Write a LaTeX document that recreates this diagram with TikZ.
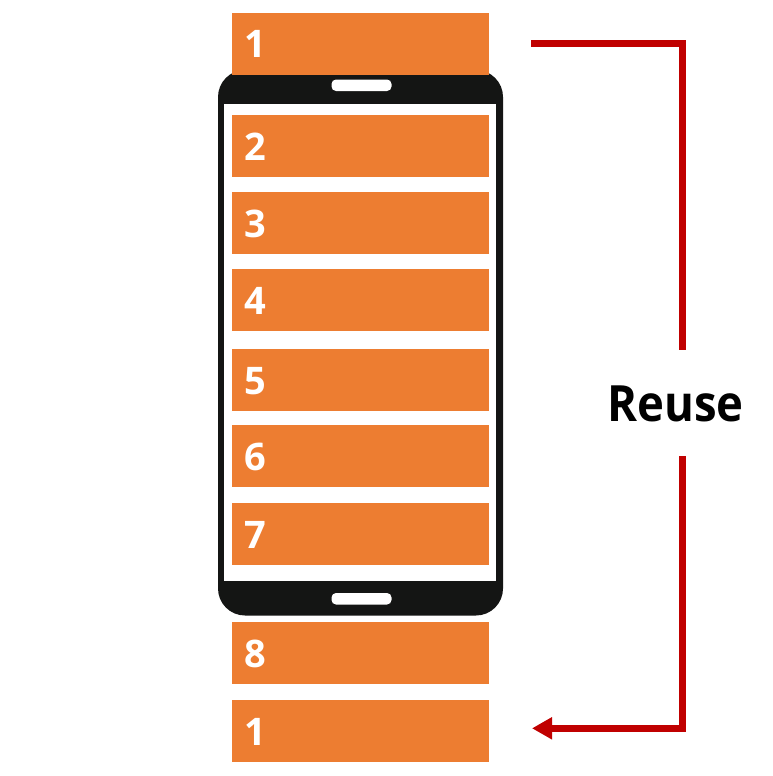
\documentclass[tikz,border=0pt]{standalone}
\usepackage{fontspec}
\setmainfont{Open Sans}
\definecolor{boxorange}{HTML}{ED7D31}
\definecolor{phoneblack}{HTML}{141514}
\definecolor{arrowred}{HTML}{C00000}
\usetikzlibrary{arrows.meta}
\tikzset{
  x=1pt,y=-1pt,
  slot/.style={fill=boxorange,draw=none,minimum width=257pt,minimum height=62pt,inner sep=0pt,outer sep=0pt,anchor=north west},
  digit/.style={text=white,font=\fontsize{38pt}{38pt}\selectfont\bfseries,inner sep=0pt,anchor=base west},
  phonebody/.style={fill=phoneblack,draw=none,rounded corners=27pt},
  speaker/.style={fill=white,draw=none,rounded corners=4.5pt},
  reuseline/.style={draw=arrowred,line width=7pt},
}
\begin{document}
\begin{tikzpicture}
\useasboundingbox (0,0) rectangle (772,776);
\fill[white] (0,0) rectangle (772,776);
% phone
\path[phonebody] (218,70) rectangle (503,615.5);
\fill[white] (224,103.5) rectangle (496,580.5);
\path[speaker] (331.5,79.5) rectangle (391.5,91);
\path[speaker] (331.5,593) rectangle (391.5,604.5);
% slots
\foreach \nm/\lbl/\ytop in {a/1/13,b/2/115,c/3/192,d/4/269,e/5/349,f/6/425,g/7/503,h/8/622,i/1/700}{
  \node[slot] (slot\nm) at (232,\ytop) {};
  \node[digit] (digit\nm) at (244,\ytop+45) {\lbl};
}
% reuse
\node[font=\fontsize{50pt}{50pt}\selectfont\bfseries,text=black,inner sep=0pt] (reuse) at (675.5,404) {\scalebox{0.91}[1]{Reuse}};
\coordinate (startpt) at ([xshift=42pt]slota.east);
\coordinate (gaptop) at (682.5,350);
\coordinate (gapbot) at (682.5,456);
\coordinate (endpt) at ([xshift=43pt,yshift=2.7pt]sloti.east);
\draw[reuseline] (startpt) -| (gaptop);
\draw[reuseline,-{Triangle[length=20pt,width=21pt]}] (gapbot) |- (endpt);
\end{tikzpicture}
\end{document}
